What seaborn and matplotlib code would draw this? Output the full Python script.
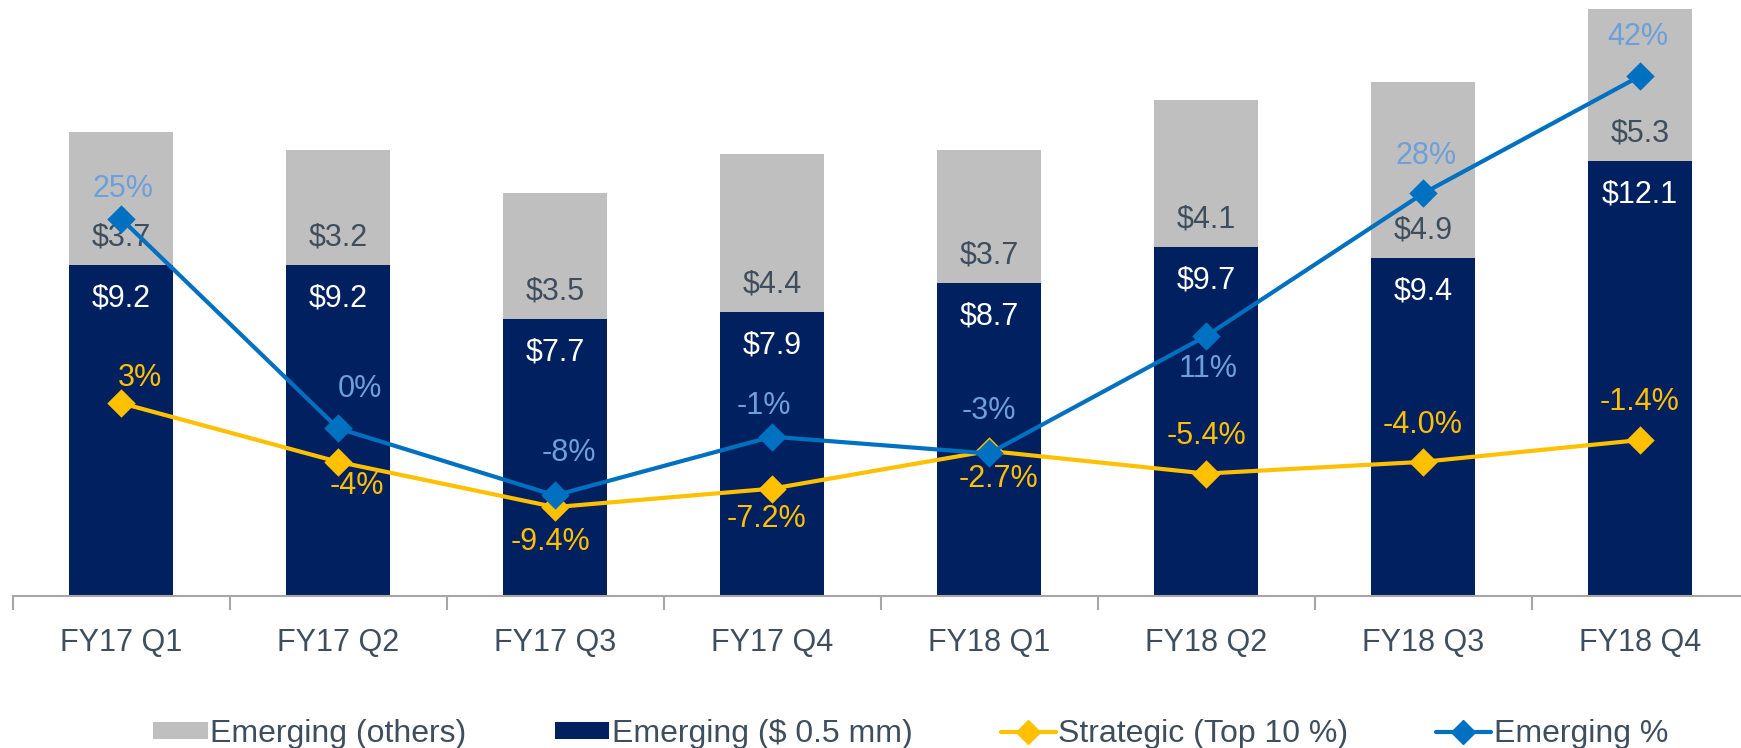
import numpy as np
import pandas as pd
import matplotlib
matplotlib.use("Agg")
import matplotlib.pyplot as plt
import seaborn as sns
from matplotlib.patches import Patch
from matplotlib.lines import Line2D

# ---------------- data ----------------
quarters = ["FY17 Q1", "FY17 Q2", "FY17 Q3", "FY17 Q4",
            "FY18 Q1", "FY18 Q2", "FY18 Q3", "FY18 Q4"]
emerging_big = [9.2, 9.2, 7.7, 7.9, 8.7, 9.7, 9.4, 12.1]        # Emerging ($ 0.5 mm)
emerging_others = [3.7, 3.2, 3.5, 4.4, 3.7, 4.1, 4.9, 5.3]     # Emerging (others)
strategic_pct = [3, -4, -9.4, -7.2, -2.7, -5.4, -4.0, -1.4]    # Strategic (Top 10 %)
strategic_text = ["3%", "-4%", "-9.4%", "-7.2%", "-2.7%", "-5.4%", "-4.0%", "-1.4%"]
emerging_pct = [25, 0, -8, -1, -3, 11, 28, 42]                 # Emerging %
series_names = ["Emerging (others)", "Emerging ($ 0.5 mm)",
                "Strategic (Top 10 %)", "Emerging %"]

# ---------------- style / layout ----------------
NAVY = "#002060"
GRAY = "#BFBFBF"
YELLOW = "#FFC000"
BLUE = "#0070C0"
BLUE_LBL = "#6F9FD8"
TXT = "#3F4E5D"
AXIS = "#A6A6A6"

# label offsets in pixels (dx, dy; dy positive = up)
emerging_off = [(2, 30), (22, 39), (14, 42), (-8, 31), (0, 42), (2, -33), (3, 37), (-2, 39)]
strategic_off = [(19, 25), (19, -24), (-5, -35), (-6, -30), (9, -28), (0, 38), (0, 37), (0, 38)]

sns.set_theme(style="white")
plt.rcParams["font.family"] = ["Liberation Sans", "DejaVu Sans"]

W, H = 1741, 748
fig = plt.figure(figsize=(W / 100, H / 100), dpi=100)
ax = fig.add_axes([12.5 / W, 1 - 596 / H, 1736 / W, 587 / H])

df = pd.DataFrame({"quarter": quarters,
                   "big": emerging_big,
                   "others": emerging_others})
df["total"] = df["big"] + df["others"]

sns.barplot(data=df, x="quarter", y="total", color=GRAY, saturation=1,
            width=0.48, errorbar=None, ax=ax, edgecolor="none", linewidth=0)
sns.barplot(data=df, x="quarter", y="big", color=NAVY, saturation=1,
            width=0.48, errorbar=None, ax=ax, edgecolor="none", linewidth=0)
ax.set_ylim(0, 16.33)
ax.set_xlim(-0.5, len(quarters) - 0.5)

PX = 72 / 100  # px -> points

# bar labels
for i, (b, o) in enumerate(zip(emerging_big, emerging_others)):
    ax.annotate(f"${b:.1f}", xy=(i, b), xytext=(0, -33 * PX), textcoords="offset points",
                ha="center", va="center", color="white", fontsize=22, zorder=5)
    ax.annotate(f"${o:.1f}", xy=(i, b), xytext=(0, 28 * PX), textcoords="offset points",
                ha="center", va="center", color=TXT, fontsize=22, zorder=5)

# lines on secondary axis
ax2 = ax.twinx()
MS, LW = 12, 3.0
sns.pointplot(x=quarters, y=strategic_pct, ax=ax2, color=YELLOW, markers="D",
              markersize=MS, linewidth=LW, errorbar=None)
sns.pointplot(x=quarters, y=emerging_pct, ax=ax2, color=BLUE, markers="D",
              markersize=MS, linewidth=LW, errorbar=None)
for ln in ax2.lines:
    ln.set_linewidth(LW)
    ln.set_markersize(MS)
ax2.set_ylim(-20, 50)
ax2.set_xlim(-0.5, len(quarters) - 0.5)

for i, (v, (dx, dy)) in enumerate(zip(emerging_pct, emerging_off)):
    ax2.annotate(f"{v:.0f}%", xy=(i, v), xytext=(dx * PX, dy * PX), textcoords="offset points",
                 ha="center", va="center", color=BLUE_LBL, fontsize=22)
for i, (v, t, (dx, dy)) in enumerate(zip(strategic_pct, strategic_text, strategic_off)):
    ax2.annotate(t, xy=(i, v), xytext=(dx * PX, dy * PX), textcoords="offset points",
                 ha="center", va="center", color=YELLOW, fontsize=22)

for a in (ax, ax2):
    for s in ["top", "right", "left"]:
        a.spines[s].set_visible(False)
    a.set_xlabel("")
    a.set_ylabel("")
ax2.spines["bottom"].set_visible(False)
ax2.set_yticks([])
ax2.xaxis.set_visible(False)

ax.set_yticks([])
ax.spines["bottom"].set_color(AXIS)
ax.spines["bottom"].set_linewidth(1.5)
ax.set_xticks(range(len(quarters)))
ax.set_xticklabels(quarters)
ax.set_xticks(np.arange(len(quarters) + 1) - 0.5, minor=True)
ax.tick_params(axis="x", which="major", length=0, pad=23, labelsize=22, labelcolor=TXT)
ax.tick_params(axis="x", which="minor", length=10, width=1.5, color=AXIS, direction="out",
               bottom=True)

# legend
handles = [Patch(facecolor=GRAY, edgecolor="none"),
           Patch(facecolor=NAVY, edgecolor="none"),
           Line2D([], [], color=YELLOW, lw=LW, marker="D", markersize=MS),
           Line2D([], [], color=BLUE, lw=LW, marker="D", markersize=MS)]
leg = fig.legend(handles, series_names, loc="center left",
                 bbox_to_anchor=(153 / W, 1 - 734 / H), ncol=4, frameon=False,
                 fontsize=23, handlelength=55 / 32, handleheight=0.45,
                 handletextpad=0.08, columnspacing=88 / 32,
                 borderpad=0, borderaxespad=0)
for t in leg.get_texts():
    t.set_color(TXT)

fig.savefig("out.png", dpi=100)
